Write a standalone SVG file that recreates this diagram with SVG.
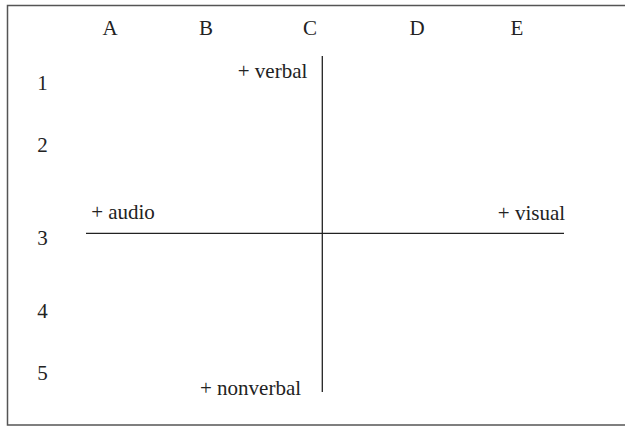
<svg xmlns="http://www.w3.org/2000/svg" width="625" height="426" viewBox="0 0 625 426">
<style>
text{font-family:"Liberation Serif","Times New Roman",serif;font-size:21px;fill:#222}
.c{text-anchor:middle}
.ax{stroke:#222;stroke-width:1.3;fill:none}
</style>
<rect x="0" y="0" width="625" height="426" fill="#fff"/>
<path d="M640,5.5 H7.5 V425 H640" fill="none" stroke="#555" stroke-width="1.5"/>
<g id="columns">
<text class="c" x="110" y="35">A</text>
<text class="c" x="206" y="35">B</text>
<text class="c" x="310" y="35">C</text>
<text class="c" x="417" y="35">D</text>
<text class="c" x="517" y="35">E</text>
</g>
<g id="rows">
<text class="c" x="42.5" y="90">1</text>
<text class="c" x="42.5" y="152">2</text>
<text class="c" x="42.5" y="245">3</text>
<text class="c" x="42.5" y="318">4</text>
<text class="c" x="42.5" y="380">5</text>
</g>
<g id="connectors">
<line class="ax" x1="322.3" y1="56" x2="322.3" y2="392"/>
<line class="ax" x1="86" y1="233.3" x2="564" y2="233.3"/>
</g>
<g id="labels">
<text class="c" x="272.5" y="78">+ verbal</text>
<text class="c" x="123" y="219">+ audio</text>
<text class="c" x="531.5" y="220">+ visual</text>
<text class="c" x="250.5" y="395">+ nonverbal</text>
</g>
</svg>
